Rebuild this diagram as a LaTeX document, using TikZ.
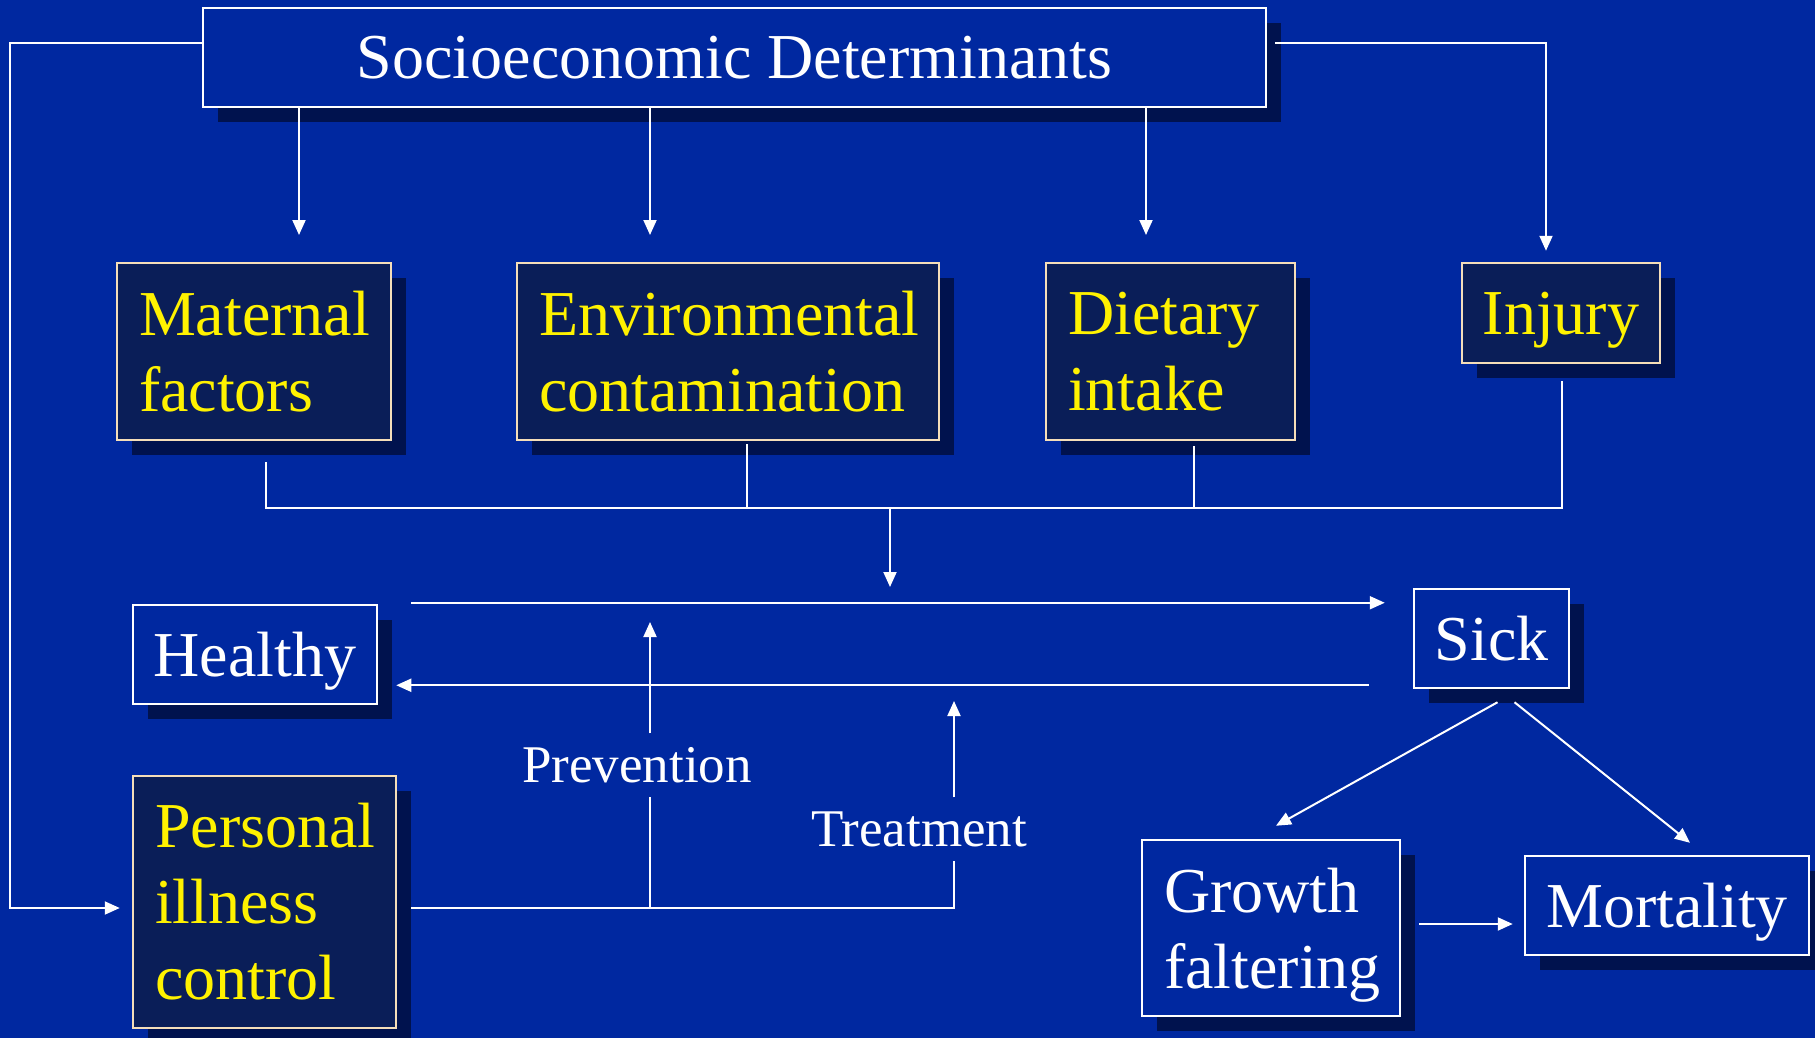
\documentclass[tikz,border=0pt]{standalone}
\usepackage{fontspec}
\setmainfont{Liberation Serif}
\usepackage{xcolor}
\usepackage{tikz}
\usetikzlibrary{positioning}
\usetikzlibrary{arrows.meta,shadows}
\definecolor{slide}{RGB}{0,40,160}
\definecolor{boxfill}{RGB}{10,30,88}
\definecolor{shadowblue}{RGB}{0,18,78}
\definecolor{edge}{RGB}{245,222,185}

\begin{document}
\begin{tikzpicture}[x=1pt,y=-1pt,
   big/.style={font=\fontsize{64}{76}\selectfont},
   small/.style={font=\fontsize{53}{60}\selectfont},
   cast/.style={drop shadow={shadow xshift=15pt,shadow yshift=-15pt,fill=shadowblue,opacity=1}},
   flat/.style={text depth=0pt},
   whitebox/.style={big,draw=white,line width=2.5pt,text=white,fill=slide,cast,inner sep=0pt},
   yellowbox/.style={big,draw=edge,line width=2.5pt,text=yellow,fill=boxfill,cast,inner ysep=0pt,inner xsep=22pt,align=left},
   link/.style={draw=white,line width=2pt},
   feed/.style={link,-{Triangle[length=15pt,width=13pt]}}]
   \fill[slide] (0,0) rectangle (1815,1038);
   \useasboundingbox (0,0) rectangle (1815,1038);
   \node[whitebox,flat,minimum width=1063pt,minimum height=99pt] (socio) at (734.5,57.5) {Socioeconomic Determinants};
   \node[yellowbox,text width=230pt,minimum height=177pt] (mat) at (254,351.5) {Maternal\\factors};
   \node[yellowbox,text width=378pt,minimum height=177pt] (env) at (728,351.5) {Environmental\\contamination};
   \node[yellowbox,text width=205pt,minimum height=177pt] (diet) at (1170.5,351.5) {Dietary\\intake};
   \node[yellowbox,flat,inner xsep=0pt,minimum width=198pt,minimum height=100pt] (inj) at (1561,313) {Injury};
   \node[whitebox,flat,minimum width=244pt,minimum height=99pt] (healthy) at (255,654.5) {Healthy};
   \node[whitebox,flat,minimum width=155pt,minimum height=99pt] (sick) at (1491.5,638.5) {Sick};
   \node[yellowbox,text width=219pt,minimum height=252pt] (pic) at (264.5,902) {Personal\\illness\\control};
   \node[whitebox,align=left,inner xsep=22pt,text width=214pt,text depth=76pt,minimum height=176pt] (growth) at (1271,928) {Growth\\faltering};
   \node[whitebox,flat,minimum width=284pt,minimum height=99pt] (mort) at (1667,905.5) {Mortality};
   \node[small,flat,text=white,inner ysep=14pt] (prev) at (637,765) {Prevention};
   \node[small,flat,text=white,inner ysep=14pt] (treat) at (919,829) {Treatment};

   \coordinate (tmat) at (299,235);
   \coordinate (tenv) at (650,235);
   \coordinate (tdiet) at (1146,235);
   \coordinate (merge) at (890,508);
   \coordinate (hit) at (890,587);
   \coordinate (lft) at (10,908);
   \coordinate (pj) at (650,908);
   \coordinate (tj) at (954,908);
   \coordinate (ptip) at (650,622);
   \coordinate (ttip) at (954,701);

   \draw[feed] (socio.south -| tmat) -- (tmat);
   \draw[feed] (socio.south -| tenv) -- (tenv);
   \draw[feed] (socio.south -| tdiet) -- (tdiet);
   \draw[feed] ([yshift=14pt]socio.west) -| (lft) -- ([xshift=-12pt]lft -| pic.west);
   \draw[feed] ([xshift=8pt,yshift=14pt]socio.east) -| ([xshift=-15pt,yshift=11pt]inj.north);
   \draw[link] ([xshift=12pt,yshift=-21pt]mat.south) |- (merge) -| ([xshift=1pt,yshift=-17pt]inj.south);
   \draw[link] ([xshift=19pt,yshift=-3pt]env.south) -- ([xshift=19pt]env.south |- merge);
   \draw[link] ([xshift=23.5pt,yshift=-5pt]diet.south) -- ([xshift=23.5pt]diet.south |- merge);
   \draw[feed] (merge) -- (hit);
   \draw[feed] ([xshift=33pt,yshift=1pt]healthy.north east) -- ([xshift=-28pt,yshift=1pt]healthy.north east -| sick.west);
   \draw[feed] ([xshift=-44pt,yshift=4pt]sick.south west) -- ([xshift=18pt,yshift=4pt]sick.south west -| healthy.east);
   \draw[link] ([xshift=14pt,yshift=-6pt]pic.east) -- (tj) -- (tj |- treat.south);
   \draw[link] (pj) -- (pj |- prev.south);
   \draw[feed] (pj |- prev.north) -- (ptip);
   \draw[feed] (tj |- treat.north) -- (ttip);
   \draw[feed] ([xshift=6pt,yshift=-13pt]sick.south) -- ([xshift=5pt,yshift=13pt]growth.north);
   \draw[feed] ([xshift=23pt,yshift=-13pt]sick.south) -- ([xshift=23pt,yshift=12pt]mort.north);
   \draw[feed] ([xshift=18pt,yshift=4pt]growth.east) -- ([xshift=-11pt,yshift=4pt]growth.east -| mort.west);
\end{tikzpicture}
\end{document}
